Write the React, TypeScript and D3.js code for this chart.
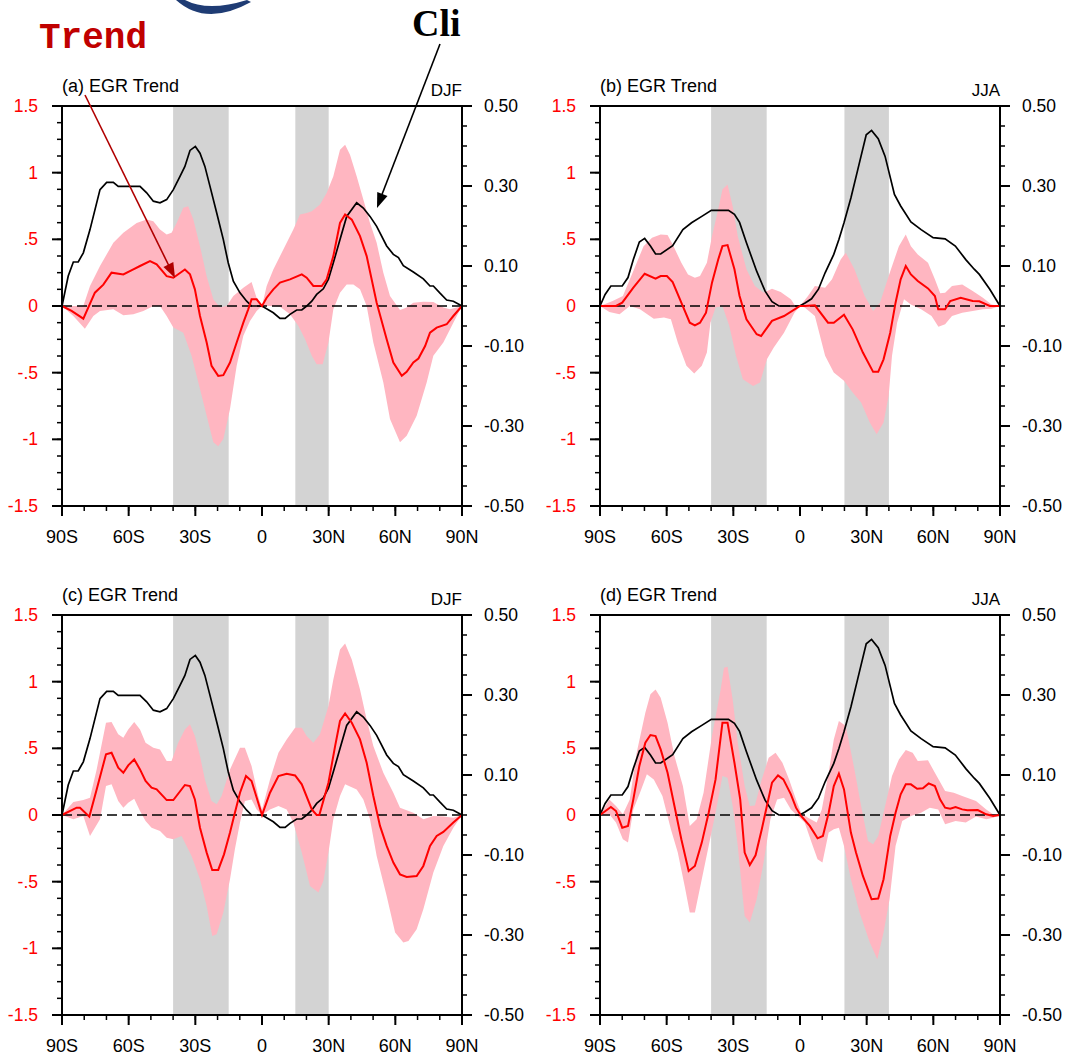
import React from "react";
import * as d3 from "d3";

type Pt = [number, number];

// axis ticks
const latTicks = [-90, -60, -30, 0, 30, 60, 90];
const latLabels = ["90S", "60S", "30S", "0", "30N", "60N", "90N"];
const trendTicks = [-1.5, -1, -0.5, 0, 0.5, 1, 1.5];
const trendLabels = ["-1.5", "-1", "-.5", "0", ".5", "1", "1.5"];
const cliTicks = [-0.5, -0.3, -0.1, 0.1, 0.3, 0.5];
const cliLabels = ["-0.50", "-0.30", "-0.10", "0.10", "0.30", "0.50"];

// shaded latitude bands
const bandsDJF: Pt[] = [[-40, -15], [15, 30]];
const bandsJJA: Pt[] = [[-40, -15], [20, 40]];

// climatology (right axis), [lat, value]
const cliDJF: Pt[] = [
  [-90, 0], [-87.2, 0.075], [-84.9, 0.11], [-82.7, 0.11], [-80.4, 0.133], [-77.4, 0.191],
  [-72.9, 0.291], [-69.9, 0.309], [-66.9, 0.309], [-64.7, 0.299], [-54.9, 0.299], [-51.9, 0.283],
  [-48.9, 0.262], [-45.9, 0.258], [-42.9, 0.266], [-39.9, 0.291], [-36.9, 0.324], [-34.7, 0.349],
  [-32.4, 0.389], [-30, 0.399], [-27.9, 0.382], [-25.7, 0.349], [-23.4, 0.299], [-20.4, 0.233],
  [-17.4, 0.166], [-15.2, 0.108], [-12.9, 0.062], [-9.9, 0.033], [-6.9, 0.012], [-4.7, 0],
  [0, 0], [5.1, -0.017], [8.1, -0.031], [10.4, -0.031], [12.6, -0.021], [15.6, -0.01],
  [17.9, -0.01], [20.1, 0], [22.4, 0.012], [24.6, 0.029], [27.6, 0.043], [29.9, 0.067],
  [32.1, 0.108], [35.1, 0.166], [38.1, 0.224], [42.6, 0.258], [45.6, 0.245], [48.6, 0.224],
  [51.6, 0.199], [56.1, 0.15], [59.1, 0.129], [61.4, 0.121], [63.6, 0.101], [68.1, 0.085],
  [72.6, 0.068], [75.6, 0.05], [77.1, 0.05], [80.1, 0.032], [83.1, 0.015], [86.1, 0.012], [90, 0],
];
const cliJJA: Pt[] = [
  [-90, 0], [-87.7, 0.029], [-85.1, 0.05], [-80, 0.05], [-77.4, 0.071], [-75, 0.116],
  [-72.3, 0.16], [-69.9, 0.169], [-67.3, 0.15], [-65, 0.13], [-62.7, 0.13], [-57.3, 0.151],
  [-52.7, 0.191], [-48.8, 0.208], [-44.2, 0.224], [-39.9, 0.239], [-32.2, 0.239], [-29.5, 0.229],
  [-27.2, 0.209], [-24.1, 0.158], [-19.5, 0.087], [-15.7, 0.037], [-12.6, 0.011], [-9.5, 0],
  [-0.2, 0], [2.1, 0.007], [5.2, 0.018], [8.3, 0.042], [11.3, 0.083], [15.2, 0.129],
  [17.5, 0.166], [19.8, 0.208], [22.9, 0.27], [26, 0.341], [29.8, 0.428], [32.2, 0.439],
  [35.2, 0.418], [38.3, 0.374], [42.5, 0.279], [45.3, 0.25], [49.9, 0.21], [54.5, 0.191],
  [59.9, 0.171], [65.3, 0.168], [69.9, 0.15], [74.6, 0.116], [78.4, 0.092], [80.7, 0.079],
  [85.4, 0.042], [90, 0],
];

// (a) DJF trend and spread
const trendA: Pt[] = [
  [-90, 0], [-85.7, -0.037], [-80.4, -0.095], [-75.2, 0.1], [-71.4, 0.16], [-67.7, 0.25],
  [-62.4, 0.237], [-57.9, 0.274], [-54.9, 0.3], [-50.4, 0.337], [-47.4, 0.312], [-42.9, 0.224],
  [-39.9, 0.212], [-34.7, 0.274], [-32.4, 0.237], [-30.2, 0.125], [-27.9, -0.075], [-24.9, -0.274],
  [-22.7, -0.449], [-19.7, -0.524], [-17.4, -0.519], [-14.4, -0.424], [-11.4, -0.274], [-8.4, -0.125],
  [-6.2, -0.025], [-4.7, 0.05], [-2.4, 0.05], [0, 0], [2.1, 0.062], [5.1, 0.125], [8.1, 0.175],
  [12.6, 0.2], [17.9, 0.237], [20.1, 0.212], [23.1, 0.15], [26.9, 0.15], [29.1, 0.2], [32.1, 0.374],
  [35.1, 0.623], [37.4, 0.686], [40.4, 0.648], [44.1, 0.524], [47.1, 0.374], [51.6, 0.025],
  [56.1, -0.249], [59.1, -0.424], [62.9, -0.524], [65.1, -0.494], [68.1, -0.424], [70.4, -0.394],
  [73.4, -0.3], [75.6, -0.2], [78.6, -0.162], [83.1, -0.137], [86.1, -0.075], [90, 0],
];
const upperA: Pt[] = [
  [-90, 0], [-80.4, 0], [-77.4, 0.15], [-72.9, 0.3], [-66.9, 0.474], [-62.4, 0.549], [-56.4, 0.623],
  [-51.9, 0.648], [-48.9, 0.636], [-45.9, 0.574], [-42.9, 0.536], [-40.7, 0.549], [-38.4, 0.623],
  [-35.4, 0.736], [-33.2, 0.748], [-30.9, 0.648], [-27.9, 0.449], [-24.9, 0.224], [-21.9, 0.05],
  [-18.9, -0.012], [-15.9, 0], [-12.9, 0.075], [-8.4, 0.137], [-4.7, 0.18], [-2.4, 0.06], [-1, 0.03],
  [0, 0], [2.1, 0.15], [5.1, 0.274], [9.6, 0.424], [14.1, 0.574], [17.1, 0.686], [20.1, 0.698],
  [22.4, 0.711], [26.1, 0.761], [29.1, 0.848], [32.1, 0.973], [35.1, 1.172], [37.4, 1.21],
  [39.6, 1.135], [42.6, 0.973], [45.6, 0.798], [48.6, 0.623], [51.6, 0.474], [54.6, 0.249],
  [57.6, 0.075], [62.1, -0.03], [65.1, -0.012], [68.1, 0.025], [72.6, 0.032], [77.1, 0.03],
  [81.6, -0.012], [84.6, -0.025], [90, 0],
];
const lowerA: Pt[] = [
  [-90, 0], [-84.9, -0.075], [-79.7, -0.17], [-75.9, -0.075], [-72.9, -0.037], [-66.9, -0.025],
  [-62.4, -0.07], [-57.9, -0.062], [-53.4, -0.037], [-48.9, 0], [-45.9, 0], [-42.9, -0.075],
  [-39.9, -0.162], [-35.4, -0.2], [-31.7, -0.374], [-27.9, -0.623], [-24.9, -0.823], [-21.9, -1.022],
  [-19.7, -1.052], [-17.4, -0.998], [-14.4, -0.773], [-11.4, -0.449], [-8.4, -0.224], [-5.4, -0.112],
  [-2.4, -0.037], [0, 0], [3.6, 0], [8.1, -0.005], [12.6, -0.062], [16.4, -0.15], [19.4, -0.249],
  [22.4, -0.374], [24.6, -0.436], [27.3, -0.436], [29.9, -0.274], [32.1, -0.025], [35.1, 0.1],
  [38.1, 0.162], [41.1, 0.162], [44.1, 0.125], [47.1, 0], [50.1, -0.274], [54.6, -0.574],
  [57.6, -0.848], [62.1, -1.022], [65.1, -0.973], [69.6, -0.823], [74.1, -0.574], [77.1, -0.374],
  [81.6, -0.274], [86.1, -0.125], [90, 0],
];

// (b) JJA trend and spread
const trendB: Pt[] = [
  [-90, 0], [-82.8, 0], [-80, 0.025], [-75, 0.137], [-69.9, 0.242], [-65, 0.205], [-62.7, 0.225],
  [-59.9, 0.225], [-57.3, 0.18], [-53.4, 0.025], [-49.6, -0.125], [-47.3, -0.145], [-45, -0.125],
  [-42.3, -0.05], [-39.6, 0.175], [-36.8, 0.349], [-34.9, 0.449], [-32.6, 0.457], [-29.5, 0.275],
  [-27.2, 0.075], [-24.1, -0.1], [-19.5, -0.212], [-17.5, -0.225], [-12.6, -0.112], [-7.2, -0.075],
  [0, 0], [2.1, 0], [6.7, 0.005], [12.6, -0.125], [15.2, -0.125], [19.8, -0.065], [23.7, -0.175],
  [28.3, -0.349], [32.9, -0.494], [35.2, -0.494], [37.6, -0.4], [40.6, -0.2], [43, 0.025],
  [45.3, 0.2], [47.6, 0.3], [49.9, 0.237], [53, 0.187], [57.6, 0.132], [60.7, 0.075], [62.2, -0.025],
  [65.3, -0.025], [67.6, 0.037], [72.3, 0.062], [77.7, 0.037], [80.7, 0.035], [85.4, 0], [90, 0],
];
const upperB: Pt[] = [
  [-90, 0], [-84.3, 0.037], [-79.7, 0.075], [-75, 0.262], [-70.4, 0.449], [-66.6, 0.512],
  [-62.7, 0.537], [-59.6, 0.532], [-57.3, 0.462], [-53.4, 0.324], [-50.4, 0.237], [-47.3, 0.212],
  [-45, 0.225], [-41.9, 0.324], [-39.6, 0.524], [-36.5, 0.749], [-34.9, 0.873], [-32.6, 0.911],
  [-30.3, 0.749], [-28, 0.524], [-24.1, 0.275], [-20.3, 0.15], [-16.4, 0.1], [-12.6, 0.13],
  [-8.7, 0.105], [-4.1, 0.05], [-2.5, 0.01], [0, 0], [3.6, 0.075], [6.7, 0.15], [11.3, 0.137],
  [14.4, 0.2], [18.3, 0.349], [20.6, 0.4], [24.5, 0.275], [29.1, 0.075], [32.9, -0.037], [36, 0.025],
  [39.9, 0.225], [44.5, 0.449], [47.6, 0.537], [49.9, 0.449], [53, 0.387], [57.6, 0.324],
  [60.7, 0.2], [63.1, 0.095], [65.3, 0.1], [68.4, 0.15], [73, 0.162], [77.7, 0.112], [82.3, 0.062],
  [86.2, 0.012], [90, 0],
];
const lowerB: Pt[] = [
  [-90, 0], [-85.8, -0.045], [-81.2, -0.062], [-76.6, 0], [-72, -0.025], [-65.8, -0.095],
  [-61.2, -0.087], [-58.1, -0.1], [-55, -0.274], [-51.1, -0.449], [-47.6, -0.507], [-44.2, -0.449],
  [-41.9, -0.349], [-40.3, -0.125], [-38, -0.012], [-34.9, 0], [-31.8, -0.15], [-28.8, -0.374],
  [-25.7, -0.549], [-21.1, -0.6], [-18, -0.574], [-14.9, -0.4], [-11.8, -0.312], [-7.2, -0.2],
  [-2.5, -0.05], [0, 0], [2.1, -0.012], [6.7, -0.075], [11.3, -0.374], [15.2, -0.499],
  [19.8, -0.561], [23.7, -0.649], [27.5, -0.724], [31.4, -0.873], [34.5, -0.961], [37.6, -0.873],
  [39.9, -0.674], [41.4, -0.374], [43.7, -0.125], [46.8, 0.05], [49.9, 0.012], [54.5, -0.025],
  [59.2, -0.075], [62.3, -0.155], [65.3, -0.137], [68.4, -0.075], [73, -0.05], [77.7, -0.037],
  [82.3, -0.025], [86.2, -0.02], [90, 0],
];

// (c) DJF trend and spread
const trendC: Pt[] = [
  [-90, 0], [-83.4, 0.055], [-81.9, 0.055], [-77.7, -0.012], [-74.4, 0.192], [-70.2, 0.455],
  [-67.7, 0.467], [-64.7, 0.355], [-62.4, 0.317], [-60.2, 0.372], [-57.5, 0.417], [-54.9, 0.342],
  [-52.4, 0.255], [-49.7, 0.205], [-47.4, 0.192], [-42.9, 0.112], [-39.9, 0.112], [-34.7, 0.225],
  [-32.4, 0.217], [-30.2, 0.117], [-27.9, -0.095], [-24.9, -0.282], [-22.4, -0.412], [-19.7, -0.412],
  [-17.1, -0.295], [-14.4, -0.132], [-12.2, 0.017], [-9.9, 0.167], [-7.2, 0.292], [-4.7, 0.255],
  [0, 0], [3.6, 0.167], [7.4, 0.292], [11.1, 0.31], [14.9, 0.297], [17.9, 0.23], [22.4, 0.042],
  [24.6, 0], [25.8, 0], [29.9, 0.242], [32.9, 0.517], [35.1, 0.705], [37.4, 0.762], [40.4, 0.692],
  [44.1, 0.567], [47.1, 0.392], [50.1, 0.142], [53.1, -0.082], [56.1, -0.232], [59.1, -0.357],
  [62.1, -0.445], [65.1, -0.465], [69.6, -0.457], [72.6, -0.382], [75.6, -0.232], [78.6, -0.157],
  [81.6, -0.127], [86.1, -0.057], [90, 0],
];
const upperC: Pt[] = [
  [-90, 0], [-84.9, 0.097], [-80.4, 0.112], [-77.4, 0.13], [-74.4, 0.342], [-70.2, 0.692],
  [-67.7, 0.697], [-64.7, 0.605], [-62.4, 0.58], [-60.2, 0.642], [-57.5, 0.697], [-54.9, 0.642],
  [-52.4, 0.542], [-48.9, 0.505], [-45.9, 0.492], [-42.9, 0.405], [-40.7, 0.405], [-37.7, 0.542],
  [-34.7, 0.642], [-32.4, 0.68], [-30.2, 0.592], [-27.9, 0.442], [-25.7, 0.267], [-22.7, 0.105],
  [-20.4, 0.08], [-18.2, 0.142], [-14.4, 0.342], [-9.9, 0.505], [-7.7, 0.505], [-4.7, 0.367],
  [-1.7, 0.142], [0, 0.042], [3.6, 0.267], [7.4, 0.467], [11.1, 0.567], [14.9, 0.655], [17.9, 0.655],
  [20.1, 0.592], [23.1, 0.542], [26.1, 0.605], [29.9, 0.817], [32.1, 1.017], [35.1, 1.242],
  [37.4, 1.287], [40.4, 1.167], [44.1, 0.942], [47.1, 0.717], [50.1, 0.517], [54.6, 0.317],
  [59.1, 0.167], [62.1, 0.055], [68.1, 0.017], [72.6, -0.032], [77.1, -0.007], [81.6, -0.012],
  [86.1, -0.02], [90, 0],
];
const lowerC: Pt[] = [
  [-90, 0], [-84.9, -0.032], [-80.4, -0.007], [-77.4, -0.157], [-72.9, -0.032], [-70.2, 0.217],
  [-67.7, 0.23], [-64.7, 0.105], [-62.4, 0.055], [-60.2, 0.092], [-57.5, 0.122], [-54.9, 0.03],
  [-52.4, -0.045], [-49.7, -0.095], [-45.9, -0.12], [-42.9, -0.17], [-39.9, -0.182], [-36.2, -0.157],
  [-31.7, -0.307], [-27.9, -0.482], [-24.9, -0.682], [-22.4, -0.907], [-20.4, -0.895], [-17.4, -0.732],
  [-14.4, -0.482], [-12.2, -0.257], [-9.9, -0.057], [-7.7, 0.105], [-4.7, 0.117], [-2.4, 0.042],
  [0, 0], [3.6, 0.042], [7.4, 0.067], [11.1, 0.042], [14.1, -0.057], [17.9, -0.282], [21.6, -0.532],
  [25.4, -0.582], [27.6, -0.495], [29.9, -0.282], [32.1, -0.032], [35.1, 0.142], [37.4, 0.23],
  [42.6, 0.192], [45.6, 0.117], [48.6, -0.032], [51.6, -0.307], [56.1, -0.607], [59.9, -0.882],
  [63.6, -0.957], [65.9, -0.945], [69.6, -0.857], [72.6, -0.707], [77.1, -0.432], [81.6, -0.232],
  [86.1, -0.095], [90, 0],
];

// (d) JJA trend and spread
const trendD: Pt[] = [
  [-90, 0], [-85.1, 0.06], [-82.8, 0.03], [-80, -0.095], [-77.4, -0.082], [-75, 0.117],
  [-72.3, 0.367], [-69.6, 0.542], [-67.3, 0.6], [-65, 0.592], [-62.7, 0.492], [-59.6, 0.317],
  [-56.5, 0.067], [-53.4, -0.182], [-50.1, -0.42], [-47.3, -0.382], [-44.2, -0.207], [-41.1, 0.017],
  [-38, 0.267], [-34.9, 0.692], [-32.6, 0.692], [-29.5, 0.392], [-26.9, 0.117], [-24.9, -0.282],
  [-22.6, -0.375], [-20, -0.302], [-17.2, -0.107], [-14.9, 0.067], [-12.6, 0.242], [-9.9, 0.297],
  [-7.5, 0.267], [-4.1, 0.155], [-1.8, 0.055], [0.5, -0.007], [4.4, -0.082], [7.9, -0.175],
  [10.3, -0.157], [12.9, 0.017], [15.2, 0.217], [17.5, 0.31], [19.8, 0.192], [22.9, -0.132],
  [25.2, -0.282], [28.3, -0.457], [32.2, -0.632], [35.2, -0.627], [37.6, -0.482], [40.6, -0.157],
  [43, 0.017], [45.3, 0.155], [47.6, 0.23], [49.9, 0.23], [52.7, 0.197], [55.3, 0.2], [57.9, 0.237],
  [60.7, 0.217], [63, 0.117], [65.3, 0.055], [67.6, 0.047], [70, 0.06], [73, 0.042], [75.3, 0.035],
  [80, 0.037], [83.8, 0.005], [86.9, -0.007], [90, 0],
];
const upperD: Pt[] = [
  [-90, 0], [-85.8, 0.117], [-82.8, 0.067], [-79.7, 0.005], [-76.6, 0.117], [-73.5, 0.467],
  [-69.6, 0.767], [-67.3, 0.905], [-65, 0.942], [-62.7, 0.88], [-59.6, 0.692], [-56.5, 0.442],
  [-52.7, 0.217], [-49.6, -0.082], [-46.5, -0.032], [-43.4, 0.167], [-39.6, 0.592], [-35.7, 0.942],
  [-34.2, 1.105], [-32.6, 1.112], [-30.3, 0.867], [-28, 0.542], [-24.9, 0.217], [-22.6, 0.067],
  [-20.3, 0.072], [-17.2, 0.267], [-14.1, 0.43], [-11, 0.467], [-7.9, 0.392], [-4.9, 0.267],
  [-1.8, 0.117], [0.5, 0.017], [3.6, -0.02], [7.5, -0.057], [9.8, 0.042], [12.9, 0.317],
  [15.2, 0.567], [17.5, 0.705], [20.6, 0.667], [24.5, 0.342], [27.5, 0.067], [30.6, -0.195],
  [32.9, -0.22], [35.2, -0.157], [38.3, 0.067], [41.4, 0.292], [44.5, 0.417], [47.6, 0.487],
  [50.7, 0.467], [53, 0.405], [57.6, 0.41], [60.7, 0.317], [65.3, 0.18], [69.2, 0.167], [73, 0.142],
  [79.2, 0.105], [83.8, 0.042], [86.9, 0.005], [90, 0],
];
const lowerD: Pt[] = [
  [-90, 0], [-85.8, 0.005], [-82.8, -0.057], [-79.7, -0.182], [-77.4, -0.207], [-75, 0.042],
  [-72, 0.167], [-68.9, 0.305], [-65.8, 0.267], [-61.9, 0.142], [-58.1, -0.107], [-55, -0.282],
  [-51.9, -0.532], [-49.6, -0.732], [-47.3, -0.732], [-44.2, -0.482], [-41.1, -0.232], [-38, 0.017],
  [-34.9, 0.292], [-32.6, 0.28], [-30.3, 0.067], [-28, -0.232], [-24.9, -0.757], [-22.6, -0.807],
  [-19.5, -0.632], [-16.4, -0.357], [-13.3, -0.032], [-10.3, 0.117], [-7.2, 0.13], [-4.1, 0.042],
  [-1, -0.007], [2.1, -0.057], [5.2, -0.207], [7.9, -0.332], [10.1, -0.357], [12.9, -0.132],
  [15.2, -0.107], [17.5, -0.095], [19.8, -0.232], [22.9, -0.482], [26.8, -0.732], [31.4, -0.957],
  [34.8, -1.082], [37.6, -0.882], [40.3, -0.632], [43, -0.232], [46, -0.045], [49.9, -0.007],
  [54.5, 0.017], [58.4, 0.055], [62.2, 0.042], [65.3, -0.07], [70, -0.045], [74.6, -0.057],
  [79.2, -0.012], [83.8, -0.032], [86.9, -0.02], [90, 0],
];

const PW = 400;
const PH = 400;
const FONT = "'Liberation Sans', Arial, Helvetica, sans-serif";

const panels = [
  { key: "a", left: 62, top: 106, title: "(a) EGR Trend", season: "DJF", bands: bandsDJF, trend: trendA, upper: upperA, lower: lowerA, cli: cliDJF },
  { key: "b", left: 600, top: 106, title: "(b) EGR Trend", season: "JJA", bands: bandsJJA, trend: trendB, upper: upperB, lower: lowerB, cli: cliJJA },
  { key: "c", left: 62, top: 615, title: "(c) EGR Trend", season: "DJF", bands: bandsDJF, trend: trendC, upper: upperC, lower: lowerC, cli: cliDJF },
  { key: "d", left: 600, top: 615, title: "(d) EGR Trend", season: "JJA", bands: bandsJJA, trend: trendD, upper: upperD, lower: lowerD, cli: cliJJA },
];

function Panel({ left, top, title, season, bands, trend, upper, lower, cli }: any) {
  const x = d3.scaleLinear().domain([-90, 90]).range([0, PW]);
  const yL = d3.scaleLinear().domain([-1.5, 1.5]).range([PH, 0]);
  const yR = d3.scaleLinear().domain([-0.5, 0.5]).range([PH, 0]);
  const lineL = d3.line<Pt>().x((d) => x(d[0])).y((d) => yL(d[1]));
  const lineR = d3.line<Pt>().x((d) => x(d[0])).y((d) => yR(d[1]));
  const spread = lineL([...upper, ...lower.slice().reverse()]) + "Z";

  const minorL = d3.range(-1.5, 1.5001, 0.125);
  const minorR = d3.range(-0.5, 0.5001, 0.05);
  const minorX = d3.range(-90, 90.001, 10);

  return (
    <g transform={`translate(${left},${top})`}>
      {bands.map((b: Pt, i: number) => (
        <rect key={i} x={x(b[0])} y={0} width={x(b[1]) - x(b[0])} height={PH} fill="#d3d3d3" />
      ))}
      <path d={spread} fill="#ffb6c1" />
      <line x1={0} x2={PW} y1={yL(0)} y2={yL(0)} stroke="#000" strokeWidth={1.5} strokeDasharray="10,5" />
      <path d={lineR(cli) || ""} fill="none" stroke="#000" strokeWidth={1.7} />
      <path d={lineL(trend) || ""} fill="none" stroke="#ff0000" strokeWidth={2} />

      {/* frame */}
      <rect x={0} y={0} width={PW} height={PH} fill="none" stroke="#000" strokeWidth={2} />

      {/* left axis */}
      {minorL.map((v, i) => (
        <line key={"ml" + i} x1={-5} x2={0} y1={yL(v)} y2={yL(v)} stroke="#000" strokeWidth={1.5} />
      ))}
      {trendTicks.map((v, i) => (
        <g key={"tl" + i}>
          <line x1={-10} x2={0} y1={yL(v)} y2={yL(v)} stroke="#000" strokeWidth={2} />
          <text x={-24} y={yL(v)} dy="0.35em" textAnchor="end" fill="#ff0000" fontSize={17.5} fontFamily={FONT}>
            {trendLabels[i]}
          </text>
        </g>
      ))}

      {/* right axis */}
      {minorR.map((v, i) => (
        <line key={"mr" + i} x1={PW} x2={PW + 5} y1={yR(v)} y2={yR(v)} stroke="#000" strokeWidth={1.5} />
      ))}
      {cliTicks.map((v, i) => (
        <g key={"tr" + i}>
          <line x1={PW} x2={PW + 10} y1={yR(v)} y2={yR(v)} stroke="#000" strokeWidth={2} />
          <text x={PW + 22} y={yR(v)} dy="0.35em" textAnchor="start" fill="#000" fontSize={17.5} fontFamily={FONT}>
            {cliLabels[i]}
          </text>
        </g>
      ))}

      {/* bottom axis */}
      {minorX.map((v, i) => (
        <line key={"mx" + i} x1={x(v)} x2={x(v)} y1={PH} y2={PH + 5} stroke="#000" strokeWidth={1.5} />
      ))}
      {latTicks.map((v, i) => (
        <g key={"tx" + i}>
          <line x1={x(v)} x2={x(v)} y1={PH} y2={PH + 10} stroke="#000" strokeWidth={2} />
          <text x={x(v)} y={PH + 37} textAnchor="middle" fill="#000" fontSize={18} fontFamily={FONT}>
            {latLabels[i]}
          </text>
        </g>
      ))}

      <text x={0} y={-14} fontSize={18} fontFamily={FONT} fill="#000">{title}</text>
      <text x={PW} y={-10} textAnchor="end" fontSize={17} fontFamily={FONT} fill="#000">{season}</text>
    </g>
  );
}

function arrowHead(x1: number, y1: number, x2: number, y2: number, len: number, half: number) {
  const a = Math.atan2(y2 - y1, x2 - x1);
  const bx = x2 - len * Math.cos(a);
  const by = y2 - len * Math.sin(a);
  const px = -Math.sin(a) * half;
  const py = Math.cos(a) * half;
  return `M${x2},${y2}L${bx + px},${by + py}L${bx - px},${by - py}Z`;
}

export default function App() {
  const W = 1067;
  const H = 1064;
  return (
    <svg width={W} height={H} style={{ position: "absolute", left: 0, top: 0, background: "#fff" }}>
      <rect width={W} height={H} fill="#fff" />
      {panels.map((p) => (
        <Panel key={p.key} {...p} />
      ))}

      {/* annotations */}
      <path d="M176,0 Q206,27 251,2 L247,0 Q208,12 185,0 Z" fill="#1f3c74" />
      <text x={39} y={48} fill="#c00000" fontSize={36} fontWeight="bold" fontFamily="'Courier New', 'Liberation Mono', monospace">
        Trend
      </text>
      <text x={412} y={36} fill="#000" fontSize={38} fontWeight="bold" fontFamily="'Liberation Serif', 'Times New Roman', serif">
        Cli
      </text>
      <line x1={85} y1={95} x2={170} y2={268} stroke="#b00000" strokeWidth={1.6} />
      <path d={arrowHead(85, 95, 175, 278, 15, 5.5)} fill="#b00000" />
      <line x1={440} y1={44} x2={381} y2={197} stroke="#000" strokeWidth={1.6} />
      <path d={arrowHead(440, 44, 377, 208, 15, 5.5)} fill="#000" />
    </svg>
  );
}
